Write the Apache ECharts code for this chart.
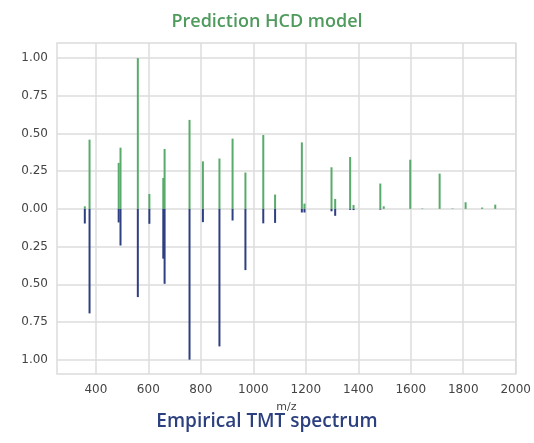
<!DOCTYPE html>
<html>
<head>
<meta charset="utf-8">
<script src="https://cdn.jsdelivr.net/npm/echarts@6/dist/echarts.min.js"></script>
<style>
  html, body { margin: 0; padding: 0; background: #ffffff; }
  #chart { width: 534px; height: 443px; }
</style>
</head>
<body>
<div id="chart"></div>
<script>
// Peak positions (m/z)
var mzValues = [358, 376, 487, 494, 560, 604, 657, 662, 757, 808, 871, 921, 970, 1038, 1083,
                1185, 1195, 1298, 1312, 1369, 1382, 1484, 1497, 1598, 1644, 1710, 1759, 1809, 1872, 1922];
// Predicted relative intensities (drawn upward)
var predicted = [0.017, 0.459, 0.305, 0.406, 1.0, 0.099, 0.205, 0.397, 0.59, 0.315, 0.334, 0.466, 0.241, 0.49, 0.095,
                 0.441, 0.035, 0.276, 0.066, 0.344, 0.026, 0.168, 0.017, 0.326, 0.003, 0.234, 0.003, 0.044, 0.009, 0.028];
// Empirical relative intensities (drawn downward)
var empirical = [0.097, 0.693, 0.09, 0.243, 0.585, 0.099, 0.33, 0.497, 1.0, 0.088, 0.912, 0.077, 0.406, 0.096, 0.093,
                 0.024, 0.024, 0.016, 0.046, 0.006, 0.008, 0.005, 0, 0, 0, 0, 0, 0, 0, 0];
// Tick values
var xTicks = [400, 600, 800, 1000, 1200, 1400, 1600, 1800, 2000];
var yTicks = [-1, -0.75, -0.5, -0.25, 0, 0.25, 0.5, 0.75, 1];

var predData = mzValues.map(function (m, i) { return [m, predicted[i]]; });
var empData = mzValues.map(function (m, i) { return [m, -empirical[i]]; });

var chart = echarts.init(document.getElementById('chart'), null, { renderer: 'canvas' });
var gridColor = '#dcdcdc';
var labelColor = '#444444';
chart.setOption({
  backgroundColor: '#ffffff',
  animation: false,
  title: [
    { text: 'Prediction HCD model', left: 'center', top: 13, padding: 0,
      textStyle: { color: '#4f9a5d', fontFamily: 'Open Sans', fontWeight: 600, fontSize: 18 } },
    { text: 'Empirical TMT spectrum', left: 'center', top: 412, padding: 0,
      textStyle: { color: '#2c3f7e', fontFamily: 'Open Sans', fontWeight: 600, fontSize: 19 } }
  ],
  grid: { left: 57, right: 14, top: 43, bottom: 69, show: true, borderColor: gridColor, borderWidth: 1.5, containLabel: false },
  xAxis: {
    type: 'value', min: 252, max: 2000,
    name: 'm/z', nameLocation: 'middle', nameGap: 28,
    nameTextStyle: { color: labelColor, fontFamily: 'DejaVu Sans', fontSize: 11 },
    axisLine: { show: false }, axisTick: { show: false, customValues: xTicks },
    axisLabel: { customValues: xTicks, color: labelColor, fontFamily: 'DejaVu Sans', fontSize: 12, margin: 10,
      formatter: function (v) { return String(v); } },
    splitLine: { show: true, lineStyle: { color: gridColor, width: 1.5 } }
  },
  yAxis: {
    type: 'value', min: -1.095, max: 1.1,
    axisLine: { show: false }, axisTick: { show: false, customValues: yTicks },
    axisLabel: { customValues: yTicks, color: labelColor, fontFamily: 'DejaVu Sans', fontSize: 12, margin: 9,
      formatter: function (v) { return Math.abs(v).toFixed(2); } },
    splitLine: { show: true, lineStyle: { color: gridColor, width: 1.5 } }
  },
  series: [
    { name: 'Prediction', type: 'bar', data: predData, barWidth: 2, barGap: '-100%',
      itemStyle: { color: '#59ab6b' }, z: 3 },
    { name: 'Empirical', type: 'bar', data: empData, barWidth: 2, barGap: '-100%',
      itemStyle: { color: '#2e3f82' }, z: 3 }
  ]
});
</script>
</body>
</html>
